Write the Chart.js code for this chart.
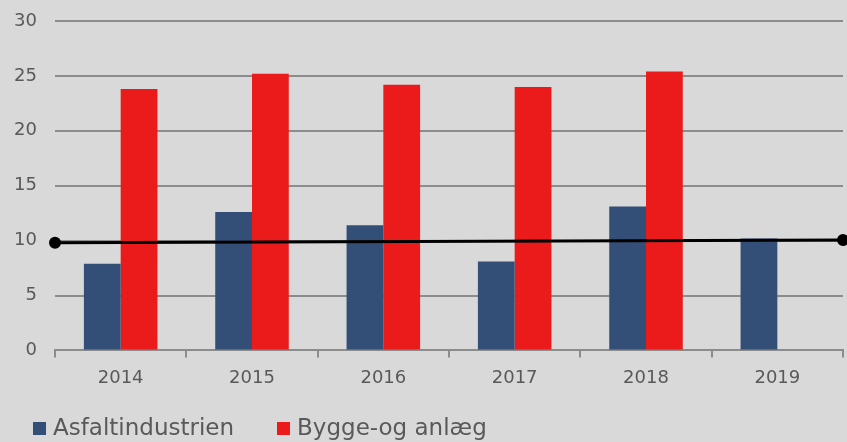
<!DOCTYPE html>
<html>
<head>
<meta charset="utf-8">
<script src="https://cdn.jsdelivr.net/npm/chart.js@4/dist/chart.umd.min.js"></script>
<style>
  html, body { margin: 0; padding: 0; background: #d9d9d9; }
  #wrap { width: 847px; height: 442px; position: relative; }
  #legend { position: absolute; left: 33px; top: 414px; font-family: 'DejaVu Sans'; font-size: 23px; line-height: 27px; color: #595959; white-space: nowrap; }
  #legend span.item { display: inline-block; margin-right: 43px; }
  #legend span.box { display: inline-block; width: 13px; height: 13px; margin-right: 7px; }
</style>
</head>
<body>
<div id="wrap"><canvas id="c" width="847" height="442"></canvas><div id="legend"></div></div>
<script>
// data
const years = ['2014', '2015', '2016', '2017', '2018', '2019'];
const asfalt = [7.9, 12.6, 11.4, 8.1, 13.1, 10.2];
const bygge = [23.8, 25.2, 24.2, 24.0, 25.4, null];
// trend line: value at the left edge and at the right edge of the plot
const trendY = [9.8, 10.05];
const yTicks = [0, 5, 10, 15, 20, 25, 30];

const tickFont = { family: 'DejaVu Sans', size: 18 };

// grey background for the whole canvas
const bgPlugin = {
  id: 'bg',
  beforeDraw(chart) {
    const ctx = chart.ctx;
    ctx.save();
    ctx.fillStyle = '#d9d9d9';
    ctx.fillRect(0, 0, chart.width, chart.height);
    ctx.restore();
  }
};

// black trend line across the whole plot, placed with the y scale
const trendPlugin = {
  id: 'trend',
  afterDatasetsDraw(chart) {
    const { ctx, chartArea, scales } = chart;
    const pts = [
      [chartArea.left, scales.y.getPixelForValue(trendY[0])],
      [chartArea.right, scales.y.getPixelForValue(trendY[1])]
    ];
    ctx.save();
    ctx.strokeStyle = '#000000';
    ctx.lineWidth = 3;
    ctx.beginPath();
    ctx.moveTo(pts[0][0], pts[0][1]);
    ctx.lineTo(pts[1][0], pts[1][1]);
    ctx.stroke();
    ctx.fillStyle = '#000000';
    pts.forEach(p => {
      ctx.beginPath();
      ctx.arc(p[0], p[1], 6, 0, Math.PI * 2);
      ctx.fill();
    });
    ctx.restore();
  }
};

const chart = new Chart(document.getElementById('c'), {
  type: 'bar',
  data: {
    labels: years,
    datasets: [
      {
        label: 'Asfaltindustrien',
        data: asfalt,
        backgroundColor: '#344f77',
        barPercentage: 1,
        categoryPercentage: 0.56
      },
      {
        label: 'Bygge-og anlæg',
        data: bygge,
        backgroundColor: '#ec1b1b',
        barPercentage: 1,
        categoryPercentage: 0.56
      }
    ]
  },
  options: {
    responsive: false,
    animation: false,
    layout: { padding: { top: 0, right: 4, left: 4, bottom: 43 } },
    plugins: {
      tooltip: { enabled: false },
      legend: { display: false }
    },
    scales: {
      x: {
        grid: {
          offset: true,
          drawOnChartArea: false,
          drawTicks: true,
          tickLength: 7,
          color: '#8c8c8c',
          lineWidth: 2
        },
        border: { color: '#8c8c8c', width: 2 },
        ticks: { color: '#595959', font: tickFont, padding: 10 }
      },
      y: {
        min: 0,
        max: 30,
        afterBuildTicks: (axis) => { axis.ticks = yTicks.map(v => ({ value: v })); },
        afterFit: (axis) => { axis.width = 51; axis.paddingTop = 21; },
        grid: { color: '#8c8c8c', lineWidth: 2, drawTicks: false },
        border: { display: false },
        ticks: { color: '#595959', font: tickFont, padding: 18 }
      }
    }
  },
  plugins: [bgPlugin, trendPlugin]
});

// legend below the chart, built from the datasets
const legendDiv = document.getElementById('legend');
chart.data.datasets.forEach(d => {
  const item = document.createElement('span');
  item.className = 'item';
  const box = document.createElement('span');
  box.className = 'box';
  box.style.background = d.backgroundColor;
  item.appendChild(box);
  item.appendChild(document.createTextNode(d.label));
  legendDiv.appendChild(item);
});
</script>
</body>
</html>
